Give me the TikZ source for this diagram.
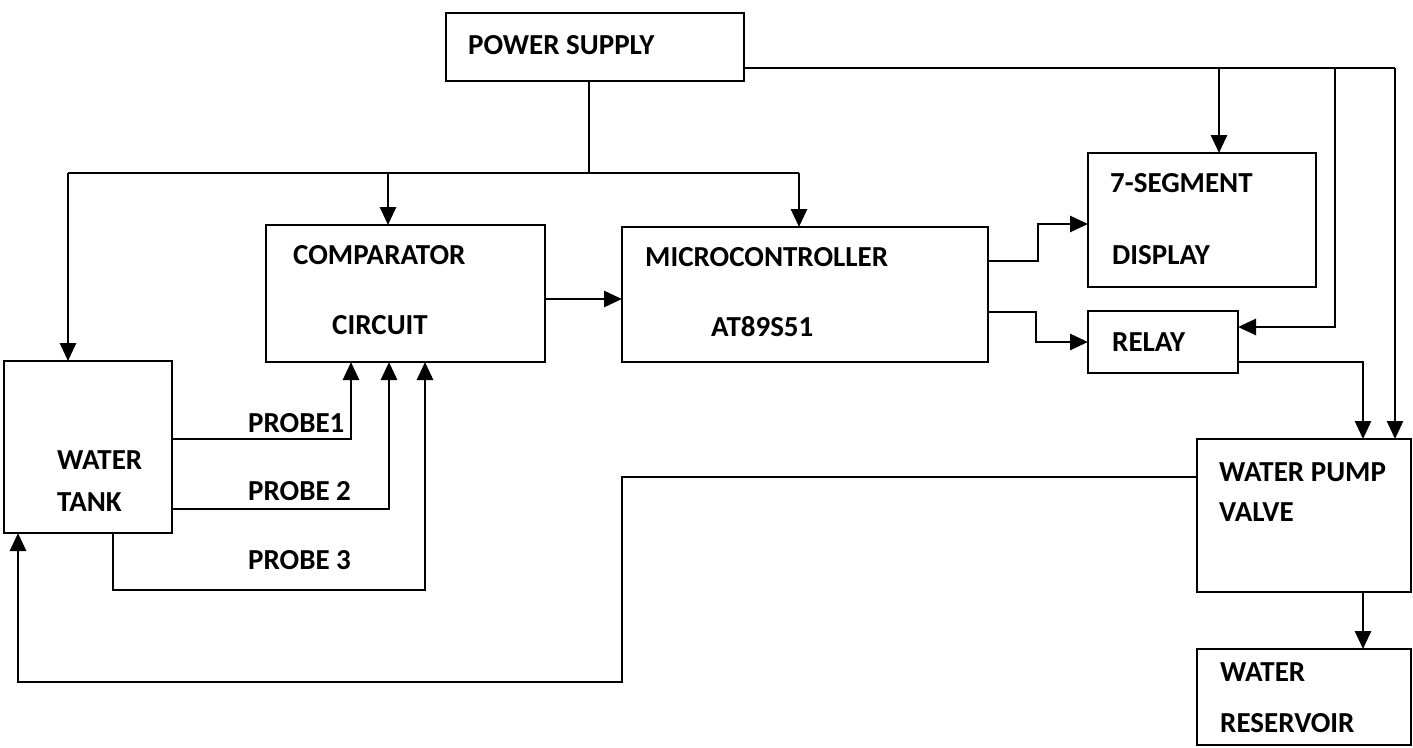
\documentclass[tikz,border=0pt]{standalone}
\usepackage{fontspec}
\setmainfont{Carlito}
\usetikzlibrary{arrows.meta}
\begin{document}
\begin{tikzpicture}[x=1pt,y=-1pt,
  box/.style={draw, line width=2.8pt, rectangle, inner sep=0pt, outer sep=0pt},
  wire/.style={line width=2.8pt},
  arr/.style={line width=2.8pt, -{Triangle[length=18pt,width=16pt]}},
  lbl/.style={anchor=base west, inner sep=0pt, font=\fontsize{29}{34}\selectfont\bfseries}]
\useasboundingbox (0,0) rectangle (1413,747);
% boxes
\node[box, minimum width=298pt, minimum height=68pt] (ps) at (595,47) {};
\node[box, minimum width=279pt, minimum height=137pt] (comp) at (405.5,293.5) {};
\node[box, minimum width=366pt, minimum height=135pt] (micro) at (805,294.5) {};
\node[box, minimum width=228pt, minimum height=134pt] (seg) at (1202,220) {};
\node[box, minimum width=150pt, minimum height=62pt] (relay) at (1163,342) {};
\node[box, minimum width=168pt, minimum height=172pt] (tank) at (88,447) {};
\node[box, minimum width=214pt, minimum height=153pt] (pump) at (1304,515.5) {};
\node[box, minimum width=214pt, minimum height=96pt] (res) at (1304,697) {};
% labels
\node[lbl] (tps) at (468,54) {POWER SUPPLY};
\node[lbl] (tc1) at (293,264) {COMPARATOR};
\node[lbl] (tc2) at (332,334) {CIRCUIT};
\node[lbl] (tm1) at (645,266) {MICROCONTROLLER};
\node[lbl] (tm2) at (711,336) {AT89S51};
\node[lbl] (ts1) at (1110,192) {7-SEGMENT};
\node[lbl] (ts2) at (1112,264) {DISPLAY};
\node[lbl] (tr) at (1112,351) {RELAY};
\node[lbl] (tt1) at (57,469) {WATER};
\node[lbl] (tt2) at (57,511) {TANK};
\node[lbl] (tp1) at (248,432) {PROBE1};
\node[lbl] (tp2) at (248,500) {PROBE 2};
\node[lbl] (tp3) at (248,569) {PROBE 3};
\node[lbl] (tw1) at (1219,481) {WATER PUMP};
\node[lbl] (tw2) at (1219,521) {VALVE};
\node[lbl] (tv1) at (1220,681) {WATER};
\node[lbl] (tv2) at (1220,732) {RESERVOIR};
% coordinates
\coordinate (pj) at (589,173);
\coordinate (tx) at (68,173);
\coordinate (cx) at (388,173);
\coordinate (mx) at (799,173);
\coordinate (pr) at (1395,68);
\coordinate (sx) at (1219,68);
\coordinate (rx) at (1335,68);
\coordinate (rx2) at (1335,327);
\coordinate (cm) at (580,299);
\coordinate (m1) at (1038,261);
\coordinate (m2) at (1038,224);
\coordinate (m3) at (1036,312);
\coordinate (m4) at (1036,342);
\coordinate (r1) at (1363,362);
\coordinate (p1) at (1363,620);
\coordinate (q1) at (622,477);
\coordinate (q2) at (622,682);
\coordinate (q3) at (18,682);
\coordinate (a1) at (351,439);
\coordinate (a2) at (389,509);
\coordinate (a3) at (113,590);
\coordinate (a4) at (425,590);
% power distribution
\draw[wire] (ps.south -| pj) -- (pj);
\draw[wire] (tx) -- (mx);
\draw[arr] (tx) -- (tank.north -| tx);
\draw[arr] (cx) -- (comp.north -| cx);
\draw[arr] (mx) -- (micro.north -| mx);
\draw[wire] (ps.east |- pr) -- (pr);
\draw[arr] (sx) -- (seg.north -| sx);
\draw[arr] (rx) -- (rx2) -- (relay.east |- rx2);
\draw[arr] (pr) -- (pump.north -| pr);
% signal path
\draw[arr] (comp.east |- cm) -- (micro.west |- cm);
\draw[arr] (micro.east |- m1) -- (m1) -- (m2) -- (seg.west |- m2);
\draw[arr] (micro.east |- m3) -- (m3) -- (m4) -- (relay.west |- m4);
\draw[arr] (relay.east |- r1) -- (r1) -- (pump.north -| r1);
\draw[arr] (pump.south -| p1) -- (res.north -| p1);
\draw[arr] (pump.west |- q1) -- (q1) -- (q2) -- (q3) -- (tank.south -| q3);
% probes
\draw[arr] (tank.east |- a1) -- (a1) -- (comp.south -| a1);
\draw[arr] (tank.east |- a2) -- (a2) -- (comp.south -| a2);
\draw[arr] (tank.south -| a3) -- (a3) -- (a4) -- (comp.south -| a4);
\end{tikzpicture}
\end{document}
